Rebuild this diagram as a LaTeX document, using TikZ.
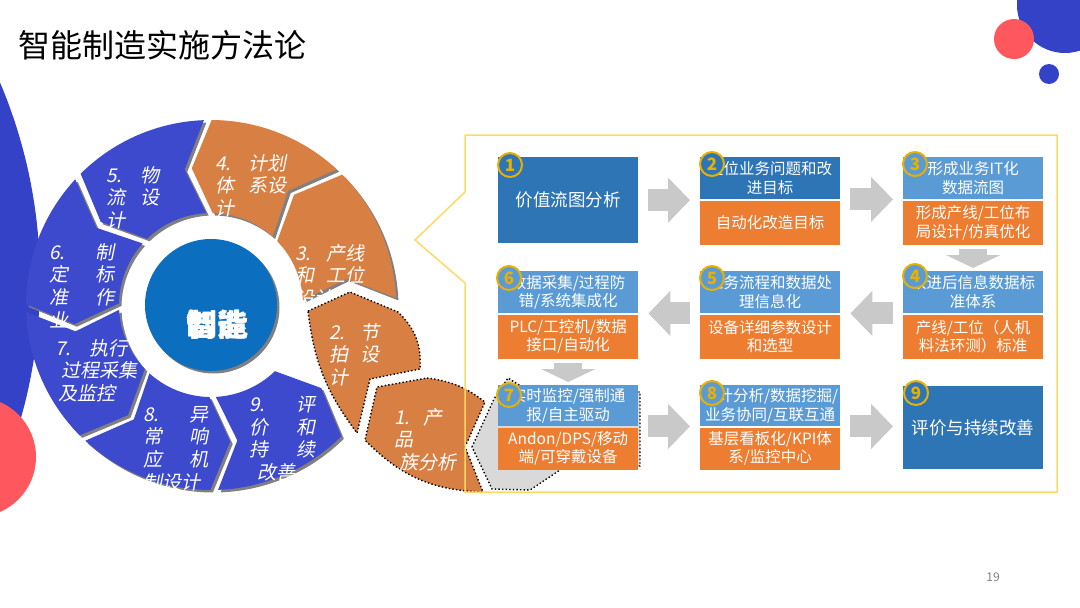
\documentclass[tikz,border=0pt]{standalone}
\usepackage{fontspec}
\setmainfont{Noto Sans CJK SC}[AutoFakeSlant=0.2]
\usetikzlibrary{positioning, arrows.meta}
\usepackage{xcolor}

\definecolor{decoblue}{RGB}{52,66,200}
\definecolor{segblue}{RGB}{61,74,206}
\definecolor{segorange}{RGB}{216,128,67}
\definecolor{hubblue}{RGB}{12,110,190}
\definecolor{coral}{RGB}{254,88,94}
\definecolor{lightblue}{RGB}{91,155,213}
\definecolor{darkblue}{RGB}{46,117,182}
\definecolor{boxorange}{RGB}{237,125,49}
\definecolor{gold}{RGB}{232,176,0}
\definecolor{framegold}{RGB}{255,217,102}
\definecolor{arrowgray}{RGB}{201,201,201}
\definecolor{chevgray}{RGB}{217,217,217}
\definecolor{shadowgray}{RGB}{128,128,128}

% first column of a wheel label
\newcommand{\wcol}[2][34pt]{\makebox[#1][l]{#2}}
% one chevron part of the wheel, #1 = start angle
\newcommand{\wheelpart}[2]{%
  \fill[#2] ({#1+1.2}:185) arc[start angle={#1+1.2}, end angle={#1+43.8}, radius=185]
    -- ({#1+52}:138) -- ({#1+43}:92) arc[start angle={#1+43}, end angle={#1+2}, radius=92]
    -- ({#1+10}:138) -- cycle;}

\begin{document}
\begin{tikzpicture}[x=1pt, y=-1pt,
    seglabel/.style={text=white, font=\itshape\fontsize{19}{22.7}\selectfont,
      align=left, anchor=north west, inner sep=0pt},
    hubtext/.style={text=white, font=\bfseries\itshape\fontsize{31}{31}\selectfont},
    exploded/.style={fill=segorange, preaction={draw=white, line width=7pt},
      postaction={draw=black, line width=1.4pt, dash pattern=on 1.4pt off 2.2pt}},
    chevron/.style={fill=chevgray, preaction={draw=white, line width=5pt},
      postaction={draw=black, line width=1.4pt, dash pattern=on 1.4pt off 2.2pt}},
    topbox/.style={fill=lightblue, text=white, minimum width=140pt, minimum height=42pt,
      inner sep=0pt, align=center, anchor=north west, font=\fontsize{15.5}{18.5}\selectfont},
    lowbox/.style={fill=boxorange, text=white, minimum width=140pt, minimum height=44pt,
      inner sep=0pt, align=center, font=\fontsize{15.5}{18.5}\selectfont},
    bigbox/.style={fill=darkblue, text=white, minimum width=140pt, minimum height=86pt,
      inner sep=0pt, anchor=north west, font=\fontsize{17.5}{20}\selectfont},
    numring/.style={circle, draw=gold, fill=lightblue, line width=2pt, minimum size=24pt,
      inner sep=0pt, text=gold, font=\bfseries\fontsize{17}{17}\selectfont},
    blockarrow/.style={draw=arrowgray, line width=22pt, shorten <=10pt, shorten >=10pt,
      -{Triangle[length=22pt, width=44pt]}},
    downarrow/.style={draw=arrowgray, line width=28pt, shorten <=4pt, shorten >=3pt,
      -{Triangle[length=13pt, width=54pt]}}
  ]
  \useasboundingbox (0,0) rectangle (1080,608);

  % corner decorations
  \fill[decoblue] (-466,280) circle[radius=506];
  \fill[coral] (-24,457) circle[radius=60];
  \fill[decoblue] (1065,5) circle[radius=48];
  \fill[coral] (1014,39) circle[radius=20];
  \fill[decoblue] (1049,74) circle[radius=10];

  \node[anchor=west, inner sep=0pt, font=\fontsize{32}{36}\selectfont] (title) at (18,45) {智能制造实施方法论};

  % the wheel
  \begin{scope}[shift={(211,305)}, y=1pt]
    \foreach \a in {1,46,91,136,181,226,271}
      {\wheelpart{\a}{shadowgray, shift={(2.5,-2.5)}}}
    \foreach \a/\c in {1/segorange,46/segorange,91/segblue,136/segblue,181/segblue,226/segblue,271/segblue}
      {\wheelpart{\a}{\c}}
    \fill[shadowgray] (2.5,-2.5) circle[radius=66];
    \fill[hubblue] (0,0) circle[radius=66];
  \end{scope}
  \node[hubtext] (hubA) at (217,325) {制造};
  \node[hubtext] (hubB) at (217,325) {智能};

  \node[seglabel] (lab5) at (106,166) {\wcol{5.}物\\\wcol{流}设\\计};
  \node[seglabel] (lab4) at (215,154) {\wcol[33pt]{4.}计划\\\wcol[33pt]{体}系设\\计};
  \node[seglabel] (lab3) at (295,244) {\wcol[31pt]{3.}产线\\\wcol[31pt]{和}工位\\设计};
  \node[seglabel] (lab6) at (49,243) {\wcol[46pt]{6.}制\\\wcol[46pt]{定}标\\\wcol[46pt]{准}作\\业};
  \node[seglabel] (lab7) at (55,339) {\wcol{7.}执行\\\hspace*{6pt}过程采集\\\hspace*{3pt}及监控};
  \node[seglabel] (lab8) at (143,406) {\wcol[46pt]{8.}异\\\wcol[46pt]{常}响\\\wcol[46pt]{应}机\\制设计};
  \node[seglabel] (lab9) at (249,396) {\wcol[47pt]{9.}评\\\wcol[47pt]{价}和\\\wcol[47pt]{持}续\\\hspace*{8pt}改善};

  % parts pulled out of the wheel
  \path[exploded] (308,311) -- (350,292) -- (398,312) to[bend left=25] (420,369)
    -- (370,379) -- (357,433) to[bend left=15] (308,311) -- cycle;
  \node[seglabel] (lab2) at (329,323) {\wcol[31pt]{2.}节\\\wcol[31pt]{拍}设\\计};
  \path[chevron] (472,447) -- (494,399) -- (508,378) -- (530,392) -- (640,392)
    -- (640,466) -- (566,466) -- (530,490) -- (492,489) -- cycle;
  \path[exploded] (427,378) to[bend left=15] (485,402) -- (465,447) -- (483,492)
    to[bend left=22] (365,440) -- (377,387) -- cycle;
  \node[seglabel] (lab1) at (394,408) {\wcol[29pt]{1.}产\\品\\\hspace*{5pt}族分析};

  % callout frame
  \draw[framegold, line width=1.5pt] (465,135) -- (1057,135) -- (1057,492) -- (465,492)
    -- (465,283) -- (415,240) -- (465,192) -- cycle;

  % step boxes
  \node[bigbox] (b1) at (498,157) {价值流图分析};
  \node[topbox, fill=darkblue] (b2t) at (700,157) {定位业务问题和改\\进目标};
  \node[lowbox, below=1pt of b2t] (b2b) {自动化改造目标};
  \node[topbox] (b3t) at (903,157) {形成业务IT化\\数据流图};
  \node[lowbox, below=1pt of b3t] (b3b) {形成产线/工位布\\局设计/仿真优化};

  \node[topbox] (b6t) at (498,271) {数据采集/过程防\\错/系统集成化};
  \node[lowbox, below=1pt of b6t] (b6b) {PLC/工控机/数据\\接口/自动化};
  \node[topbox] (b5t) at (700,271) {业务流程和数据处\\理信息化};
  \node[lowbox, below=1pt of b5t] (b5b) {设备详细参数设计\\和选型};
  \node[topbox] (b4t) at (903,271) {改进后信息数据标\\准体系};
  \node[lowbox, below=1pt of b4t] (b4b) {产线/工位（人机\\料法环测）标准};

  \node[topbox, minimum height=41pt] (b7t) at (498,385) {实时监控/强制通\\报/自主驱动};
  \node[lowbox, minimum height=42pt, below=1pt of b7t] (b7b) {Andon/DPS/移动\\端/可穿戴设备};
  \node[topbox, minimum height=41pt] (b8t) at (700,385) {统计分析/数据挖掘/\\业务协同/互联互通};
  \node[lowbox, minimum height=42pt, below=1pt of b8t] (b8b) {基层看板化/KPI体\\系/监控中心};
  \node[bigbox, minimum height=83pt] (b9) at (903,386) {评价与持续改善};

  % arrows between steps
  \draw[blockarrow] (b1.east) -- (b1.east -| b2t.west);
  \draw[blockarrow] (b2t.south east) -- (b3t.south west);
  \draw[downarrow] (b3b.south) -- (b4t.north);
  \draw[blockarrow] (b4t.south west) -- (b5t.south east);
  \draw[blockarrow] (b5t.south west) -- (b6t.south east);
  \draw[downarrow] (b6b.south) -- (b7t.north);
  \draw[blockarrow] (b7t.south east) -- (b8t.south west);
  \draw[blockarrow] (b8t.south east) -- (b8t.south east -| b9.west);

  % step numbers
  \node[numring, fill=darkblue] (n1) at ([shift={(12,8)}]b1.north west) {1};
  \node[numring, fill=darkblue] (n2) at ([shift={(12,7)}]b2t.north west) {2};
  \node[numring] (n3) at ([shift={(12,7)}]b3t.north west) {3};
  \node[numring] (n4) at ([shift={(12,5)}]b4t.north west) {4};
  \node[numring] (n5) at ([shift={(12,7)}]b5t.north west) {5};
  \node[numring] (n6) at ([shift={(11,7)}]b6t.north west) {6};
  \node[numring] (n7) at ([shift={(11,10)}]b7t.north west) {7};
  \node[numring] (n8) at ([shift={(12,8)}]b8t.north west) {8};
  \node[numring, fill=darkblue] (n9) at ([shift={(13,7)}]b9.north west) {9};

  \node[text=gray, font=\fontsize{12}{12}\selectfont] (pnum) at (993,577) {19};
\end{tikzpicture}
\end{document}
